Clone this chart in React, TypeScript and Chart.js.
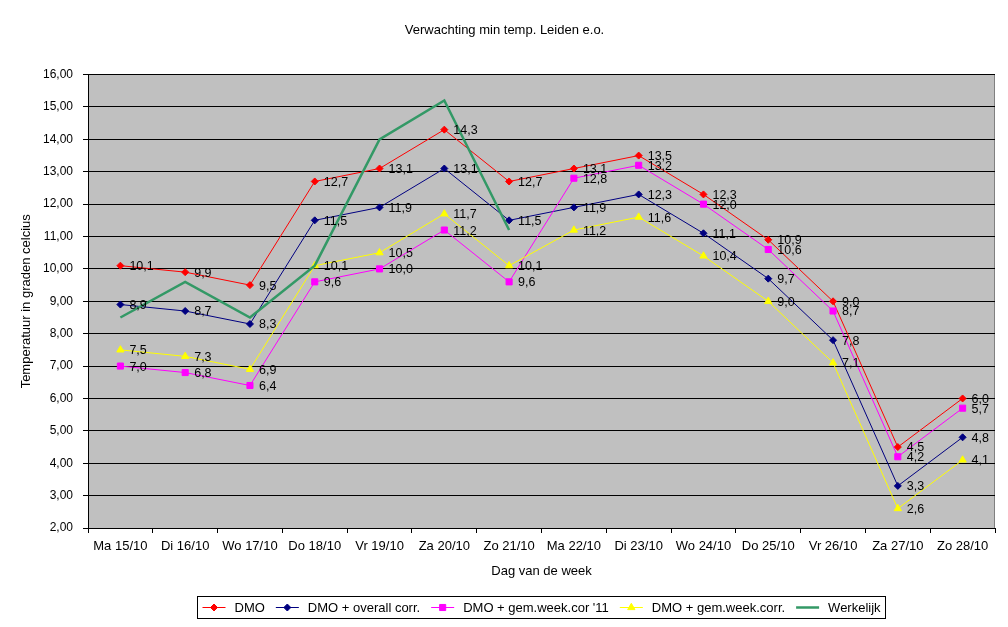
import React, { useEffect, useRef } from 'react';
import { Chart, registerables } from 'chart.js';
import { drawPoint } from 'chart.js/helpers';

Chart.register(...registerables);

const FONT = '"Liberation Sans", Arial, sans-serif';

// categories (x axis)
const days = [
	'Ma 15/10', 'Di 16/10', 'Wo 17/10', 'Do 18/10', 'Vr 19/10', 'Za 20/10', 'Zo 21/10',
	'Ma 22/10', 'Di 23/10', 'Wo 24/10', 'Do 25/10', 'Vr 26/10', 'Za 27/10', 'Zo 28/10',
];

// series values
const dmo = [10.1, 9.9, 9.5, 12.7, 13.1, 14.3, 12.7, 13.1, 13.5, 12.3, 10.9, 9.0, 4.5, 6.0];
const dmoOverall = [8.9, 8.7, 8.3, 11.5, 11.9, 13.1, 11.5, 11.9, 12.3, 11.1, 9.7, 7.8, 3.3, 4.8];
const dmoWeek11 = [7.0, 6.8, 6.4, 9.6, 10.0, 11.2, 9.6, 12.8, 13.2, 12.0, 10.6, 8.7, 4.2, 5.7];
const dmoWeek = [7.5, 7.3, 6.9, 10.1, 10.5, 11.7, 10.1, 11.2, 11.6, 10.4, 9.0, 7.1, 2.6, 4.1];
const werkelijk = [8.5, 9.6, 8.5, 10.1, 14.0, 15.2, 11.2, null, null, null, null, null, null, null];

// y axis range
const yMin = 2;
const yMax = 16;

// datasets whose values get a text label
const labelledSeries = [0, 1, 2, 3];

const plotBackground = {
	id: 'plotBackground',
	beforeDraw(chart: any) {
		const { ctx, chartArea } = chart;
		ctx.save();
		ctx.fillStyle = '#C0C0C0';
		ctx.fillRect(chartArea.left, chartArea.top, chartArea.right - chartArea.left, chartArea.bottom - chartArea.top);
		ctx.strokeStyle = '#808080';
		ctx.lineWidth = 1;
		ctx.beginPath();
		ctx.moveTo(chartArea.right - 0.5, chartArea.top);
		ctx.lineTo(chartArea.right - 0.5, chartArea.bottom);
		ctx.stroke();
		ctx.restore();
	},
};

const valueLabels = {
	id: 'valueLabels',
	afterDatasetsDraw(chart: any) {
		const ctx = chart.ctx;
		ctx.save();
		ctx.font = '12.5px ' + FONT;
		ctx.fillStyle = '#000';
		ctx.textBaseline = 'middle';
		ctx.textAlign = 'left';
		labelledSeries.forEach((i) => {
			const ds = chart.data.datasets[i];
			const meta = chart.getDatasetMeta(i);
			meta.data.forEach((pt: any, j: number) => {
				const v = ds.data[j];
				if (v == null) return;
				ctx.fillText(v.toFixed(1).replace('.', ','), pt.x + 9, pt.y + 1);
			});
		});
		ctx.restore();
	},
};

// legend in a box, line + marker like the original
const boxLegend = {
	id: 'boxLegend',
	afterDraw(chart: any) {
		const ctx = chart.ctx;
		const lineLen = 23, gap = 9, spacing = 11, padX = 5;
		ctx.save();
		ctx.font = '13px ' + FONT;
		const items = chart.data.datasets.map((ds: any) => ({ ds, w: ctx.measureText(ds.label).width }));
		const total = items.reduce((s: number, it: any) => s + lineLen + gap + it.w, 0) + spacing * (items.length - 1) + padX * 2;
		const cx = (chart.chartArea.left + chart.chartArea.right) / 2;
		const left = Math.round(cx - total / 2) + 0.5;
		const top = 596.5;
		const h = 22;
		const cy = top + h / 2;
		ctx.strokeStyle = '#000';
		ctx.lineWidth = 1;
		ctx.strokeRect(left, top, Math.round(total), h);
		let x = left + padX;
		items.forEach((it: any) => {
			const ds = it.ds;
			ctx.strokeStyle = ds.borderColor;
			ctx.lineWidth = ds.borderWidth;
			ctx.beginPath();
			ctx.moveTo(x, cy);
			ctx.lineTo(x + lineLen, cy);
			ctx.stroke();
			if (ds.pointRadius > 0) {
				ctx.fillStyle = ds.pointBackgroundColor;
				ctx.strokeStyle = ds.borderColor;
				ctx.lineWidth = 1;
				drawPoint(ctx, { pointStyle: ds.pointStyle, radius: ds.pointRadius, rotation: 0, borderWidth: 1 }, x + lineLen / 2, cy);
			}
			ctx.fillStyle = '#000';
			ctx.textBaseline = 'middle';
			ctx.fillText(ds.label, x + lineLen + gap, cy + 1);
			x += lineLen + gap + it.w + spacing;
		});
		ctx.restore();
	},
};

const App: React.FC = () => {
	const chartRef = useRef<HTMLCanvasElement | null>(null);
	const chartInstanceRef = useRef<Chart | null>(null);

	useEffect(() => {
		document.body.style.margin = '0';
		if (!chartRef.current) return;
		const ctx = chartRef.current.getContext('2d');
		if (!ctx) return;

		const series = (label: string, data: (number | null)[], color: string, style: string, radius: number, order: number) => ({
			label,
			data,
			borderColor: color,
			backgroundColor: color,
			pointBackgroundColor: color,
			pointBorderColor: color,
			borderWidth: 1,
			pointStyle: style,
			pointRadius: radius,
			pointBorderWidth: 1,
			tension: 0,
			order,
		});

		const config: any = {
			type: 'line',
			data: {
				labels: days,
				datasets: [
					series('DMO', dmo, '#FF0000', 'rectRot', 3.5, 4),
					series('DMO + overall corr.', dmoOverall, '#000080', 'rectRot', 3.5, 3),
					series("DMO + gem.week.cor '11", dmoWeek11, '#FF00FF', 'rect', 4.3, 2),
					series('DMO + gem.week.corr.', dmoWeek, '#FFFF00', 'triangle', 4.2, 1),
					{
						label: 'Werkelijk',
						data: werkelijk,
						borderColor: '#339966',
						backgroundColor: '#339966',
						borderWidth: 2.5,
						pointRadius: 0,
						tension: 0,
						spanGaps: false,
						order: 0,
					},
				],
			},
			options: {
				responsive: false,
				animation: false,
				layout: {
					padding: { top: 20, left: 14, right: 13, bottom: 48 },
				},
				scales: {
					x: {
						offset: true,
						grid: {
							offset: true,
							drawOnChartArea: false,
							color: '#000',
							tickLength: 5,
						},
						border: { color: '#000' },
						ticks: {
							color: '#000',
							font: { family: FONT, size: 13 },
							padding: 6,
							maxRotation: 0,
							autoSkip: false,
						},
						title: {
							display: true,
							text: 'Dag van de week',
							color: '#000',
							font: { family: FONT, size: 13 },
							padding: 0,
						},
						afterFit: (scale: any) => {
							scale.height = 51;
						},
					},
					y: {
						min: yMin,
						max: yMax,
						ticks: {
							stepSize: 1,
							color: '#000',
							font: { family: FONT, size: 12 },
							padding: 10,
							callback: (v: number) => v.toFixed(2).replace('.', ','),
						},
						grid: {
							color: '#000',
							tickLength: 5,
						},
						border: { color: '#000' },
						title: {
							display: true,
							text: 'Temperatuur in graden celcius',
							color: '#000',
							font: { family: FONT, size: 13 },
							padding: 5,
						},
						afterFit: (scale: any) => {
							scale.width = 74;
						},
					},
				},
				plugins: {
					legend: { display: false },
					tooltip: { enabled: false },
					title: {
						display: true,
						text: 'Verwachting min temp. Leiden e.o.',
						color: '#000',
						font: { family: FONT, size: 13, weight: 'normal' },
						padding: { top: 3, bottom: 36 },
					},
				},
			},
			plugins: [plotBackground, valueLabels, boxLegend],
		};

		if (chartInstanceRef.current) {
			chartInstanceRef.current.destroy();
		}
		chartInstanceRef.current = new Chart(ctx, config);

		return () => {
			if (chartInstanceRef.current) {
				chartInstanceRef.current.destroy();
				chartInstanceRef.current = null;
			}
		};
	}, []);

	return (
		<div style={{ width: 1008, height: 627 }}>
			<canvas ref={chartRef} width={1008} height={627} />
		</div>
	);
};

export default App;
